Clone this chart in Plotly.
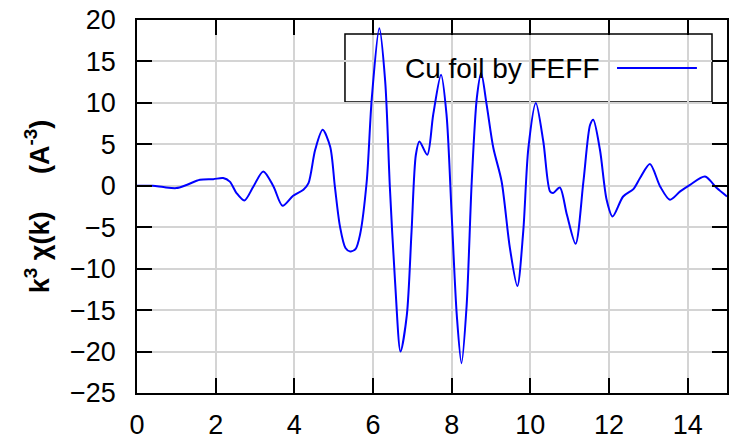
import plotly.graph_objects as go

k_vals = [0, 0.4, 0.67, 1.0, 1.26, 1.6, 1.94, 2.19, 2.36, 2.53, 2.73, 2.96, 3.21, 3.47, 3.70,
          3.97, 4.23, 4.36, 4.53, 4.72, 4.91, 5.03, 5.16, 5.30, 5.42, 5.56, 5.67, 5.84, 5.97,
          6.16, 6.31, 6.43, 6.56, 6.70, 6.86, 6.98, 7.09, 7.18, 7.38, 7.53, 7.73, 7.87, 8.0,
          8.13, 8.25, 8.38, 8.51, 8.64, 8.75, 8.89, 9.06, 9.27, 9.48, 9.67, 9.82, 9.95, 10.14,
          10.33, 10.50, 10.58, 10.75, 10.93, 11.15, 11.35, 11.52, 11.60, 11.77, 11.94, 12.09,
          12.36, 12.62, 12.79, 13.04, 13.30, 13.55, 13.81, 14.06, 14.44, 14.74, 15.0]
chi_vals = [0, 0, -0.16, -0.28, 0.1, 0.72, 0.8, 0.93, 0.5, -0.88, -1.77, -0.08, 1.73, -0.08, -2.41,
            -1.2, -0.48, 0.32, 4.34, 6.75, 4.74, -0.08, -4.9, -7.5, -7.93, -7.6, -5.9, 0.52, 10.6,
            19.0, 12.6, -0.28, -11.5, -20.0, -15.6, -5.5, 3.74, 5.34, 3.74, 8.56, 13.4, 8.56, -3.5,
            -15.6, -21.4, -14.5, 0.52, 10.6, 13.6, 9.77, 4.55, 0.52, -7.5, -12.1, -5.5, 4.55, 9.98,
            5.34, -0.68, -0.88, -0.2, -3.5, -7.0, 0.52, 7.36, 7.96, 4.34, -1.69, -3.7,
            -1.29, -0.4, 0.93, 2.62, -0.08, -1.69, -0.68, 0.12, 1.12, -0.28, -1.29]
x_ticks = [0, 2, 4, 6, 8, 10, 12, 14]
y_ticks = [-25, -20, -15, -10, -5, 0, 5, 10, 15, 20]
series_name = "Cu foil by FEFF"

FONT = "Liberation Sans, Arial, sans-serif"
BLUE = "#0000ff"

fig = go.Figure()
fig.add_trace(go.Scatter(x=k_vals, y=chi_vals, mode="lines", name=series_name,
                         line=dict(color=BLUE, width=2, shape="spline", smoothing=0.8),
                         showlegend=False))

axis_common = dict(showgrid=True, gridcolor="#d4d4d4", gridwidth=1.5, automargin=False,
                   showline=True, linecolor="black", linewidth=1.5, mirror="ticks",
                   ticks="inside", ticklen=15, tickwidth=1.5, tickcolor="black",
                   zeroline=False, tickfont=dict(family=FONT, size=27, color="black"))

fig.update_xaxes(range=[0, 15], tickvals=x_ticks, ticklabelstandoff=7, **axis_common)
fig.update_yaxes(range=[-25, 20], tickvals=y_ticks, ticklabelstandoff=14, **axis_common)

# legend box drawn in gnuplot style (text left, line sample right)
fig.add_shape(type="rect", xref="paper", yref="paper", x0=0.3525, x1=0.9746, y0=0.780, y1=0.9625,
              line=dict(color="black", width=1.5), fillcolor="white", layer="between")
fig.add_shape(type="line", xref="paper", yref="paper", x0=0.8136, x1=0.949, y0=0.8713, y1=0.8713,
              line=dict(color=BLUE, width=2))
fig.add_annotation(text=series_name, xref="paper", yref="paper", x=0.7864, y=0.8713,
                   xanchor="right", yanchor="middle", showarrow=False,
                   font=dict(family=FONT, size=28, color="black"))

# y-axis title
fig.add_annotation(text="<b>k<sup>3</sup> χ(k)\u00a0\u00a0\u00a0\u00a0\u00a0(A<sup>-3</sup>)</b>",
                   xref="paper", yref="paper", x=-0.17, y=0.5, xanchor="center", yanchor="middle",
                   textangle=-90, showarrow=False,
                   font=dict(family=FONT, size=27, color="black"))

fig.update_layout(width=734, height=444, margin=dict(l=137, r=7, t=20, b=51),
                  plot_bgcolor="white", paper_bgcolor="white")

fig.write_html("out.html")
